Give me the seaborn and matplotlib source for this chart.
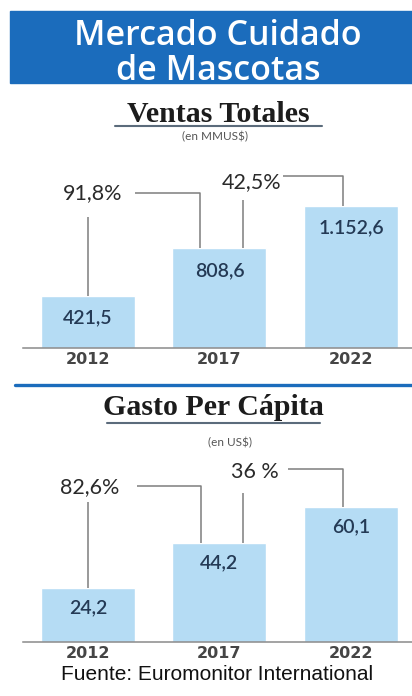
import matplotlib
matplotlib.use("Agg")
import matplotlib.pyplot as plt
import pandas as pd
import seaborn as sns

# ---- data ----
years = ["2012", "2017", "2022"]
ventas = [421.5, 808.6, 1152.6]
ventas_labels = ["421,5", "808,6", "1.152,6"]
ventas_growth = ["91,8%", "42,5%"]
gasto = [24.2, 44.2, 60.1]
gasto_labels = ["24,2", "44,2", "60,1"]
gasto_growth = ["82,6%", "36 %"]

# ---- styling ----
W, H = 412, 696
BLUE = "#1b6cbc"
BAR = "#b5dcf4"
NUM = "#243a55"
LINE = "#7d7d7d"
YEAR = "#454545"

sns.set_theme(style="white")
plt.rcParams["font.family"] = ["Lato", "DejaVu Sans"]

fig = plt.figure(figsize=(W / 100, H / 100), dpi=100)


def fx(px):
    return px / W


def fy(py):
    return 1 - py / H


# header band
fig.patches.append(plt.Rectangle((fx(10), fy(83)), fx(412) - fx(10), fy(11) - fy(83),
                                 transform=fig.transFigure, color=BLUE, zorder=0))
for txt, base in [("Mercado Cuidado", 45), ("de Mascotas", 80)]:
    fig.text(fx(218), fy(base), txt, color="white", fontsize=24.5, weight="semibold",
             ha="center", va="baseline", family=["Open Sans", "DejaVu Sans"])


def section_title(title, sub, base_py, line_py, x0, x1, sub_x, sub_py):
    fig.text(fx((x0 + x1) / 2), fy(base_py), title, fontsize=21.5, weight="bold",
             color="#1c1c1c", ha="center", va="baseline",
             family=["Liberation Serif", "DejaVu Serif"])
    fig.add_artist(plt.Line2D([fx(x0), fx(x1)], [fy(line_py), fy(line_py)],
                              transform=fig.transFigure, color="#5b6b7b", lw=1.5))
    fig.text(fx(sub_x), fy(sub_py), sub, fontsize=8.5, color="#555555",
             ha="center", va="center")


section_title("Ventas Totales", "(en MMUS$)", 122, 126, 115, 322, 215, 137)

# separator between the two panels
fig.add_artist(plt.Line2D([fx(15), fx(412)], [fy(385), fy(385)],
                          transform=fig.transFigure, color=BLUE, lw=2.4))

section_title("Gasto Per Cápita", "(en US$)", 415, 423, 107, 320, 230, 443)

fig.text(fx(217), fy(674), "Fuente: Euromonitor International", fontsize=15,
         color="#111111", ha="center", va="center",
         family=["Liberation Sans", "DejaVu Sans"])


def bar_panel(values, labels, growth, top_py, bottom_py, px_per_unit,
              label_off, texts, hlines, stubs):
    left, right = 23, 412
    ax = fig.add_axes([fx(left), fy(bottom_py), (right - left) / W,
                       (bottom_py - top_py) / H])
    df = pd.DataFrame({"year": years, "value": values})
    sns.barplot(data=df, x="year", y="value", color=BAR, saturation=1,
                width=0.715, ax=ax)
    ax.set_xlim(-0.494, 2.464)
    ax.set_ylim(0, (bottom_py - top_py) / px_per_unit)
    for s in ["top", "left", "right"]:
        ax.spines[s].set_visible(False)
    ax.spines["bottom"].set_color("#8a8a8a")
    ax.spines["bottom"].set_linewidth(1.1)
    ax.set_xlabel("")
    ax.set_ylabel("")
    ax.set_yticks([])
    ax.tick_params(axis="x", length=0, pad=3)
    for t in ax.get_xticklabels():
        t.set_fontsize(11.5)
        t.set_fontweight("bold")
        t.set_color(YEAR)
        t.set_family(["DejaVu Sans"])
    ax.patch.set_alpha(0)

    def dy(py):
        return (bottom_py - py) / px_per_unit

    for i, (v, lab) in enumerate(zip(values, labels)):
        ax.annotate(lab, xy=(i, v), xytext=(0, -label_off), textcoords="offset pixels",
                    ha="center", va="center", fontsize=14, color=NUM,
                    weight="semibold")

    # growth connectors between consecutive bars
    for k, g in enumerate(growth):
        tx, tpy = texts[k]
        hx0, hx1, hpy = hlines[k]
        sx, spy = stubs[k]
        ax.text(tx, dy(tpy), g, fontsize=15.5, color="#2a2a2a", ha="center",
                va="center", clip_on=False)
        # vertical stub rising from the earlier bar
        ax.plot([sx, sx], [values[k], dy(spy)], color=LINE, lw=1.1,
                clip_on=False, solid_capstyle="butt")
        # bracket dropping onto the later bar
        ax.plot([hx0, hx1, hx1], [dy(hpy), dy(hpy), values[k + 1]], color=LINE,
                lw=1.1, clip_on=False, solid_capstyle="butt")
    return ax


bar_panel(ventas, ventas_labels, ventas_growth, 150, 348, 0.1232, 22,
          texts=[(0.038, 193), (1.247, 182)],
          hlines=[(0.358, 0.852, 193), (1.483, 1.94, 176)],
          stubs=[(0.0, 217), (1.179, 200)])

bar_panel(gasto, gasto_labels, gasto_growth, 450, 642, 2.25, 20,
          texts=[(0.015, 487), (1.27, 472)],
          hlines=[(0.373, 0.86, 486), (1.521, 1.94, 469)],
          stubs=[(0.0, 502), (1.18, 493)])

fig.savefig("out.png", dpi=100)
